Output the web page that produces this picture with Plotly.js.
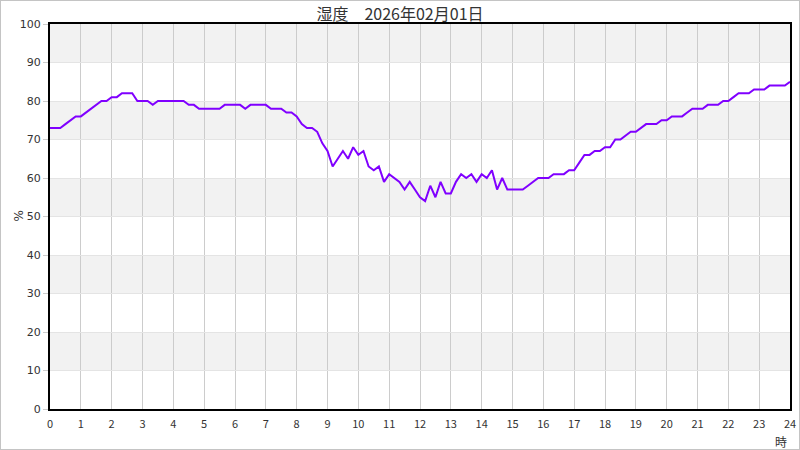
<!DOCTYPE html>
<html>
<head>
<meta charset="utf-8">
<script src="https://cdn.plot.ly/plotly-3.0.1.min.js"></script>
<style>
  html, body { margin: 0; padding: 0; background: #fff; }
  #wrap { position: relative; width: 800px; height: 450px; }
  #chart { width: 800px; height: 450px; }
  #frame { position: absolute; left: 0; top: 0; width: 800px; height: 450px; box-sizing: border-box; border: 1px solid #c4c4c4; pointer-events: none; }
</style>
</head>
<body>
<div id="wrap"><div id="chart"></div><div id="frame"></div></div>
<script>
// ---- data ----
const chartTitle = "湿度　2026年02月01日";
const yTitle = "%";
const xTitle = "時";
const startHour = 0;
const stepMinutes = 10;   // sampling interval
const humidity = [
  73,73,73,74,75,76,76,77,78,79,
  80,80,81,81,82,82,82,80,80,80,
  79,80,80,80,80,80,80,79,79,78,
  78,78,78,78,79,79,79,79,78,79,
  79,79,79,78,78,78,77,77,76,74,
  73,73,72,69,67,63,65,67,65,68,
  66,67,63,62,63,59,61,60,59,57,
  59,57,55,54,58,55,59,56,56,59,
  61,60,61,59,61,60,62,57,60,57,
  57,57,57,58,59,60,60,60,61,61,
  61,62,62,64,66,66,67,67,68,68,
  70,70,71,72,72,73,74,74,74,75,
  75,76,76,76,77,78,78,78,79,79,
  79,80,80,81,82,82,82,83,83,83,
  84,84,84,84,85
];
const xTickVals = [0,1,2,3,4,5,6,7,8,9,10,11,12,13,14,15,16,17,18,19,20,21,22,23,24];
const yTickVals = [0,10,20,30,40,50,60,70,80,90,100];
const bandRanges = [[10,20],[30,40],[50,60],[70,80],[90,100]];

// ---- build ----
const hours = humidity.map((_, i) => startHour + i * stepMinutes / 60);

const shapes = bandRanges.map(r => ({
  type: 'rect', xref: 'paper', yref: 'y', x0: 0, x1: 1, y0: r[0], y1: r[1],
  fillcolor: '#f2f2f2', line: { width: 0 }, layer: 'below'
}));

const trace = {
  x: hours, y: humidity, type: 'scatter', mode: 'lines',
  line: { color: '#8000ff', width: 2 },
  hoverinfo: 'skip'
};

const font = { family: 'DejaVu Sans, sans-serif', size: 11, color: '#333' };

const layout = {
  width: 800, height: 450,
  margin: { l: 50, r: 10, t: 24, b: 41, pad: 0 },
  paper_bgcolor: 'rgba(0,0,0,0)', plot_bgcolor: '#fff',
  showlegend: false,
  font: font,
  title: { text: chartTitle, x: 0.5, xanchor: 'center', yref: 'container', y: 0.969, yanchor: 'middle',
           font: { family: 'Noto Sans CJK JP, sans-serif', size: 16, color: '#333' } },
  xaxis: {
    range: [0, 24], tickvals: xTickVals, ticktext: xTickVals.map(String),
    showgrid: true, gridcolor: '#cccccc', gridwidth: 1,
    zeroline: false, showline: true, linecolor: '#000', linewidth: 2, mirror: true,
    ticks: 'outside', ticklen: 4, tickcolor: 'rgba(0,0,0,0)',
    tickfont: { family: 'Noto Sans CJK JP, sans-serif', size: 11, color: '#333' },
    fixedrange: true
  },
  yaxis: {
    range: [0, 100], tickvals: yTickVals, ticktext: yTickVals.map(String),
    showgrid: true, gridcolor: '#e4e4e4', gridwidth: 1,
    zeroline: false, showline: true, linecolor: '#000', linewidth: 2, mirror: true,
    ticks: 'outside', ticklen: 5, tickcolor: '#cccccc', tickwidth: 1,
    tickfont: { family: 'DejaVu Sans, sans-serif', size: 11, color: '#333' },
    fixedrange: true
  },
  shapes: shapes,
  annotations: [{
    text: xTitle, xref: 'paper', yref: 'paper', x: 1.0, y: 0, xanchor: 'right', yanchor: 'top',
    xshift: -1, yshift: -22, showarrow: false,
    font: { family: 'Noto Sans CJK JP, sans-serif', size: 12, color: '#333' }
  }, {
    text: yTitle, xref: 'paper', yref: 'paper', x: 0, y: 0.5, xanchor: 'center', yanchor: 'middle',
    xshift: -32, textangle: -90, showarrow: false,
    font: { family: 'DejaVu Sans, sans-serif', size: 12, color: '#333' }
  }]
};

Plotly.newPlot('chart', [trace], layout, { displayModeBar: false, staticPlot: true });
</script>
</body>
</html>
